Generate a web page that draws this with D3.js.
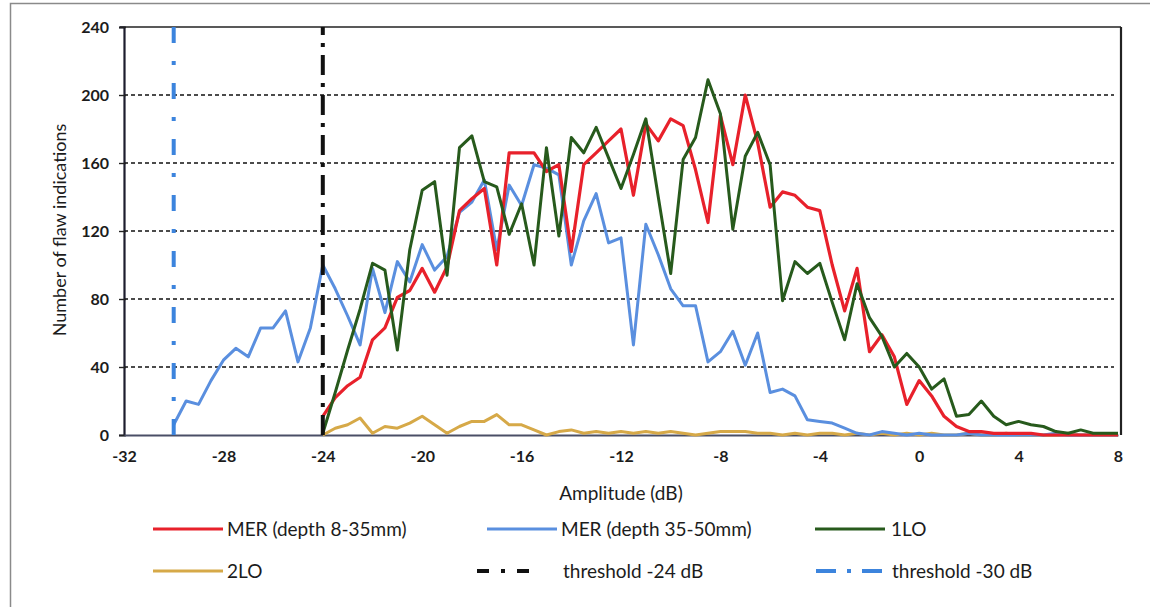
<!DOCTYPE html>
<html>
<head>
<meta charset="utf-8">
<script src="https://cdn.jsdelivr.net/npm/d3@7"></script>
<style>
  body { margin: 0; background: #fff; }
  text { font-family: Lato, "Open Sans", sans-serif; fill: #1c1c1c; }
</style>
</head>
<body>
<div id="chart"></div>
<script>
// amplitude steps (dB), 0.5 dB bins
const amplitude = [
  -30, -29.5, -29, -28.5, -28, -27.5, -27, -26.5, -26, -25.5, -25, -24.5,
  -24, -23.5, -23, -22.5, -22, -21.5, -21, -20.5, -20, -19.5, -19, -18.5, -18, -17.5, -17, -16.5,
  -16, -15.5, -15, -14.5, -14, -13.5, -13, -12.5, -12, -11.5, -11, -10.5, -10, -9.5, -9, -8.5,
  -8, -7.5, -7, -6.5, -6, -5.5, -5, -4.5, -4, -3.5, -3, -2.5, -2, -1.5, -1, -0.5,
  0, 0.5, 1, 1.5, 2, 2.5, 3, 3.5, 4, 4.5, 5, 5.5, 6, 6.5, 7, 7.5,
  8
];
const amplitudeFrom24 = amplitude.slice(12);

// MER depth 35-50mm, starts at -30 dB
const merDeep = [
  6, 20, 18, 32, 44, 51, 46, 63, 63, 73, 43, 63,
  100, 86, 70, 53, 98, 72, 102, 90, 112, 97, 105, 131, 137, 150, 109, 147,
  135, 159, 157, 153, 100, 126, 142, 113, 116, 53, 124, 106, 86, 76, 76, 43,
  49, 61, 41, 60, 25, 27, 23, 9, 8, 7, 4, 1, 0, 2, 1, 0,
  1, 0, 0, 0, 1, 0, 0, 0, 0, 0, 0, 1, 0, 0, 0, 0,
  0
];
// MER depth 8-35mm, starts at -24 dB
const merShallow = [
  11, 22, 29, 34, 56, 63, 81, 85, 98, 84, 99, 132, 139, 145, 100, 166,
  166, 166, 155, 159, 108, 159, 166, 173, 180, 141, 183, 173, 186, 182, 156, 125,
  188, 159, 200, 172, 134, 143, 141, 134, 132, 100, 73, 98, 49, 59, 46, 18,
  32, 23, 11, 5, 2, 2, 1, 1, 1, 1, 0, 0, 0, 0, 0, 0,
  0
];
const oneLO = [
  1, 25, 50, 74, 101, 97, 50, 109, 144, 149, 94, 169, 176, 149, 146, 118,
  136, 100, 169, 117, 175, 166, 181, 163, 145, 165, 186, 140, 95, 162, 175, 209,
  189, 121, 164, 178, 159, 79, 102, 95, 101, 78, 56, 89, 69, 58, 40, 48,
  40, 27, 33, 11, 12, 20, 11, 6, 8, 6, 5, 2, 1, 3, 1, 1,
  1
];
const twoLO = [
  0, 4, 6, 10, 1, 5, 4, 7, 11, 6, 1, 5, 8, 8, 12, 6,
  6, 3, 0, 2, 3, 1, 2, 1, 2, 1, 2, 1, 2, 1, 0, 1,
  2, 2, 2, 1, 1, 0, 1, 0, 1, 1, 0, 1, 0, 1, 0, 1,
  0, 1, 0, 0, 1, 0, 0, 1, 0, 0, 0, 0, 1, 0, 0, 0,
  0
];

// threshold lines (vertical)
const threshold24 = [[-24, 0], [-24, 240]];
const threshold30 = [[-30, 0], [-30, 240]];

const xTicks = [-32, -28, -24, -20, -16, -12, -8, -4, 0, 4, 8];
const yTicks = [0, 40, 80, 120, 160, 200, 240];

const margin = {top: 27, right: 32, bottom: 172, left: 124},
    width = 1150 - margin.left - margin.right,
    height = 607 - margin.top - margin.bottom;

const svg = d3.select("#chart")
  .append("svg")
    .attr("width", 1150)
    .attr("height", 607);

// outer chart border (top + left visible in the scan)
svg.append("path")
  .attr("d", "M10.5,607 L10.5,3.5 L1150,3.5")
  .attr("fill", "none")
  .attr("stroke", "#8a8a8a")
  .attr("stroke-width", 1.5);

const g = svg.append("g")
  .attr("transform", `translate(${margin.left},${margin.top})`);

const x = d3.scaleLinear().domain([-32, 8]).range([0, width]);
const y = d3.scaleLinear().domain([0, 240]).range([height, 0]);

// gridlines
g.append("g")
  .selectAll("line")
  .data(yTicks.filter(d => d > 0 && d < 240))
  .enter().append("line")
    .attr("x1", 0)
    .attr("x2", width - 4)
    .attr("y1", d => y(d))
    .attr("y2", d => y(d))
    .attr("stroke", "#111")
    .attr("stroke-width", 1.7)
    .attr("stroke-dasharray", "4,3");

// plot frame: top thin, right thicker
g.append("line")
  .attr("x1", -4).attr("x2", width + 3)
  .attr("y1", 0).attr("y2", 0)
  .attr("stroke", "#222").attr("stroke-width", 1.3);
g.append("line")
  .attr("x1", width + 3).attr("x2", width + 3)
  .attr("y1", 0).attr("y2", height)
  .attr("stroke", "#222").attr("stroke-width", 2.2);

// y axis
const yAxis = g.append("g")
  .call(d3.axisLeft(y).tickValues(yTicks).tickFormat(d => String(d)).tickSize(5).tickPadding(10));
yAxis.select(".domain").attr("stroke", "#1d1d2e").attr("stroke-width", 2.2);
yAxis.selectAll(".tick line").attr("stroke", "#222").attr("stroke-width", 1.4).attr("x2", -5).attr("x1", 2);
yAxis.selectAll("text")
  .style("font-family", "Lato, sans-serif")
  .style("font-size", "16px")
  .style("font-weight", "bold")
  .attr("fill", "#1c1c1c");

// x axis
const xAxis = g.append("g")
  .attr("transform", `translate(0,${height})`)
  .call(d3.axisBottom(x).tickValues(xTicks).tickFormat(d => String(d)).tickSize(0).tickPadding(16));
xAxis.select(".domain").attr("stroke", "#4a4f66").attr("stroke-width", 1.8);
xAxis.selectAll("text")
  .style("font-family", "Lato, sans-serif")
  .style("font-size", "16px")
  .style("font-weight", "bold")
  .attr("fill", "#1c1c1c");

// axis titles
svg.append("text")
  .attr("x", 621)
  .attr("y", 500)
  .attr("text-anchor", "middle")
  .style("font-size", "19px")
  .text("Amplitude (dB)");

svg.append("text")
  .attr("transform", "translate(66,230) rotate(-90)")
  .attr("text-anchor", "middle")
  .style("font-size", "18px")
  .text("Number of flaw indications");

// series
const line = d3.line()
  .x(d => x(d[0]))
  .y(d => y(d[1]));

const zip = (xs, vs) => vs.map((v, i) => [xs[i], v]);

const series = [
  {name: "2LO", data: zip(amplitudeFrom24, twoLO), color: "#d6a948", width: 3},
  {name: "MER (depth 35-50mm)", data: zip(amplitude, merDeep), color: "#5a8fdf", width: 3},
  {name: "MER (depth 8-35mm)", data: zip(amplitudeFrom24, merShallow), color: "#e8212b", width: 3.2},
  {name: "1LO", data: zip(amplitudeFrom24, oneLO), color: "#275a1c", width: 3}
];

g.selectAll(".series")
  .data(series)
  .enter().append("path")
    .attr("class", "series")
    .attr("d", d => line(d.data))
    .attr("fill", "none")
    .attr("stroke", d => d.color)
    .attr("stroke-width", d => d.width)
    .attr("stroke-linejoin", "round");

// thresholds
g.append("path")
  .datum(threshold30)
  .attr("d", line)
  .attr("fill", "none")
  .attr("stroke", "#3c84dd")
  .attr("stroke-width", 4)
  .attr("stroke-dasharray", "16,18,4,18");

g.append("path")
  .datum(threshold24)
  .attr("d", line)
  .attr("fill", "none")
  .attr("stroke", "#111")
  .attr("stroke-width", 4)
  .attr("stroke-dasharray", "20,8,4,8");

// legend
const legend = [
  {label: "MER (depth 8-35mm)", color: "#e8212b", dash: null, lx: 153, ly: 529, tx: 227},
  {label: "MER (depth 35-50mm)", color: "#5a8fdf", dash: null, lx: 487, ly: 529, tx: 561},
  {label: "1LO", color: "#275a1c", dash: null, lx: 815, ly: 529, tx: 891},
  {label: "2LO", color: "#d6a948", dash: null, lx: 153, ly: 571, tx: 227},
  {label: "threshold -24 dB", color: "#111", dash: "12,12,4,12,12", lx: 477, ly: 571, tx: 563},
  {label: "threshold -30 dB", color: "#3c84dd", dash: "20,11,4,11,20", lx: 816, ly: 571, tx: 892}
];

const lg = svg.append("g");
legend.forEach(function(d) {
  const len = d.dash ? d3.sum(d.dash.split(",").map(Number)) : 70;
  lg.append("line")
    .attr("x1", d.lx).attr("x2", d.lx + len)
    .attr("y1", d.ly).attr("y2", d.ly)
    .attr("stroke", d.color)
    .attr("stroke-width", d.dash ? 4 : 3)
    .attr("stroke-dasharray", d.dash);
  lg.append("text")
    .attr("x", d.tx)
    .attr("y", d.ly)
    .attr("dy", "0.35em")
    .style("font-size", "19px")
    .text(d.label);
});
</script>
</body>
</html>
